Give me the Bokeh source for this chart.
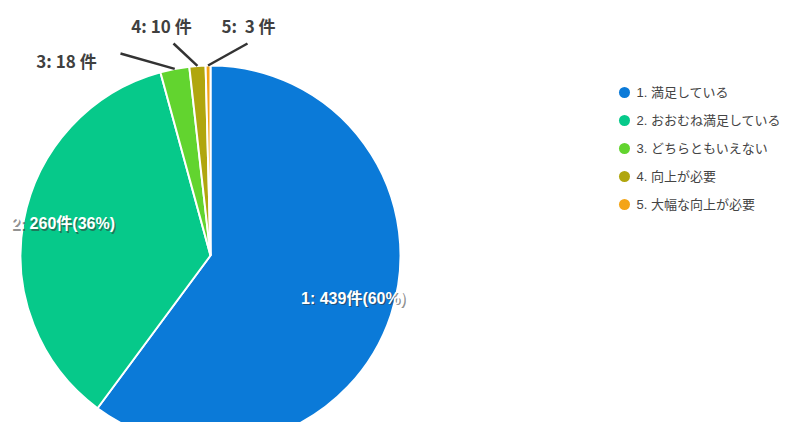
import numpy as np
from bokeh.plotting import figure
from bokeh.models import Range1d, ColumnDataSource
from bokeh.core.properties import value
from bokeh.embed import file_html
from bokeh.resources import INLINE

# ---- data ----
codes = ["1", "2", "3", "4", "5"]
categories = ["満足している", "おおむね満足している", "どちらともいえない", "向上が必要", "大幅な向上が必要"]
counts = [439, 260, 18, 10, 3]
colors = ["#0b7ad8", "#06c98a", "#62d42f", "#b0a60e", "#f4a416"]

W, H = 786, 422
p = figure(width=W, height=H, output_backend="svg", toolbar_location=None,
           x_range=Range1d(0, W), y_range=Range1d(0, H),
           min_border=0)
p.axis.visible = False
p.grid.visible = False
p.outline_line_color = None
p.background_fill_color = "white"

def Y(img_y):
    return H - img_y

cx, cy, R = 210, Y(255), 190
vals = np.array(counts, dtype=float)
total = vals.sum()
c1 = np.cumsum(vals) / total
c0 = c1 - vals / total
start = np.pi / 2 - 2 * np.pi * c0
end = np.pi / 2 - 2 * np.pi * c1
mid = (start + end) / 2

src = ColumnDataSource(dict(start=start, end=end, color=colors))
p.wedge(x=cx, y=cy, radius=R, start_angle="start", end_angle="end",
        direction="clock", fill_color="color", line_color="white",
        line_width=2, source=src)

# inner labels for the large slices
pct = np.round(vals / total * 100).astype(int)
lab_font = value("Liberation Sans, Noto Sans CJK JP")
for i in range(2):
    txt = f"{codes[i]}: {counts[i]}件({pct[i]}%)"
    lx = cx + 0.79 * R * np.cos(mid[i])
    ly = cy + 0.79 * R * np.sin(mid[i]) + 4
    p.text(x=[lx + 1.5], y=[ly - 1.5], text=[txt], text_align="center",
           text_baseline="middle", text_font=lab_font, text_font_size="16px",
           text_font_style="bold", text_color="#333333", text_alpha=0.55)
    p.text(x=[lx], y=[ly], text=[txt], text_align="center",
           text_baseline="middle", text_font=lab_font, text_font_size="16px",
           text_font_style="bold", text_color="white")

# outer labels with leader lines for small slices
outer_ends = {2: (120, 53), 3: (173, 43), 4: (247, 43)}
outer_text = {2: (66, 60), 3: (161, 25), 4: (248, 25)}
out_font = value("Noto Sans CJK JP")
for i in (2, 3, 4):
    ix = cx + R * np.cos(mid[i])
    iy = cy + R * np.sin(mid[i])
    ox, oy = outer_ends[i]
    p.line(x=[ix, ox], y=[iy, Y(oy)], line_color="#333333", line_width=2.5)
    tx, ty = outer_text[i]
    sep = ":\u00a0\u00a0" if counts[i] < 10 else ": "
    p.text(x=[tx], y=[Y(ty)], text=[f"{codes[i]}{sep}{counts[i]} 件"],
           text_align="center", text_baseline="middle", text_font=out_font,
           text_font_size="17px", text_font_style="bold", text_color="#404040")

# legend
ly0, dy = 92, 28
leg = ColumnDataSource(dict(
    x=[624] * len(codes),
    y=[Y(ly0 + dy * k) for k in range(len(codes))],
    tx=[636] * len(codes),
    label=[f"{c}. {n}" for c, n in zip(codes, categories)],
    color=colors,
))
p.scatter(x="x", y="y", size=11, marker="circle", fill_color="color",
          line_color=None, source=leg)
p.text(x="tx", y="y", text="label", text_baseline="middle",
       text_font=value("Liberation Sans, Noto Sans CJK JP"),
       text_font_size="13px", text_color="#444444", source=leg)

open("out.html", "w").write(file_html(p, INLINE))
